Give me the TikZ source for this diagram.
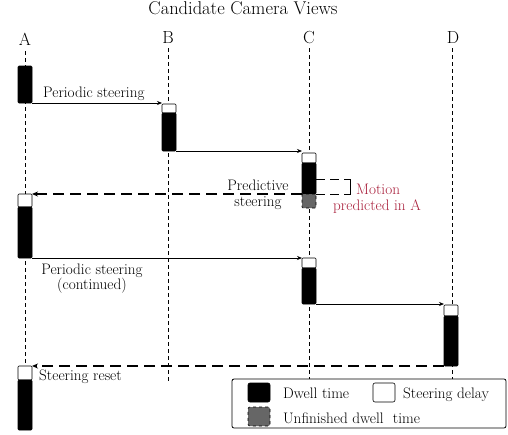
\documentclass[tikz,border=0pt]{standalone}
\usepackage{fontspec}
\usetikzlibrary{arrows.meta}
\definecolor{predred}{RGB}{168,30,58}
\begin{document}
\begin{tikzpicture}[x=1pt,y=-1pt,
  every node/.style={font=\fontsize{15.2}{18}\selectfont},
  big/.style={font=\fontsize{17.5}{20}\selectfont, inner sep=0, anchor=base},
  lane/.style={dash pattern=on 4pt off 3pt, line width=0.6pt},
  bar/.style={draw, line width=0.6pt, minimum width=14pt, inner sep=0, outer sep=0, rounded corners=1pt},
  dwell/.style={bar, fill=black},
  delay/.style={bar, fill=white},
  unfinished/.style={bar, fill=black!60, dashed},
  hop/.style={-{Stealth[length=5pt,width=4pt]}, line width=0.7pt},
  back/.style={-{Stealth[length=6pt,width=5pt]}, line width=1.1pt, dash pattern=on 11pt off 6pt},
  lbl/.style={inner sep=0, anchor=base west},
  ctr/.style={inner sep=0, anchor=base},
]
\useasboundingbox (0,0) rectangle (508,434);

% title and view headers
\node[big, font=\fontsize{18.5}{22}\selectfont] (title) at (243,14.5) {Candidate Camera Views};
\node[big] (hA) at (25,45) {A};
\node[big] (hB) at (168,43) {B};
\node[big] (hC) at (309,43) {C};
\node[big] (hD) at (453,43) {D};

% dashed lanes
\coordinate (topA) at (25,51);  \coordinate (botA) at (25,430);
\coordinate (topB) at (168,48); \coordinate (botB) at (168,383);
\coordinate (topC) at (309,48); \coordinate (botC) at (309,379);
\coordinate (topD) at (452,48); \coordinate (botD) at (452,379);
\draw[lane] (topA) -- (botA);
\draw[lane] (topB) -- (botB);
\draw[lane] (topC) -- (botC);
\draw[lane] (topD) -- (botD);

% dwell / delay bars
\node[dwell, minimum height=37pt] (A1) at (25,84.5) {};
\node[delay, minimum height=9pt]  (B1d) at (169,108.5) {};
\node[dwell, minimum height=38pt] (B1) at (169,132) {};
\node[delay, minimum height=10pt] (C1d) at (309,158) {};
\node[dwell, minimum height=31pt] (C1) at (309,178.5) {};
\node[unfinished, minimum height=14pt] (C1u) at (309,201) {};
\node[delay, minimum height=13pt] (A2d) at (25,200.5) {};
\node[dwell, minimum height=51pt] (A2) at (25,232.5) {};
\node[delay, minimum height=10pt] (C2d) at (309,263) {};
\node[dwell, minimum height=36pt] (C2) at (309,286) {};
\node[delay, minimum height=11pt] (D1d) at (451,310.5) {};
\node[dwell, minimum height=50pt] (D1) at (451,341) {};
\node[delay, minimum height=14pt] (A3d) at (25,373) {};
\node[dwell, minimum height=50pt] (A3) at (25,405) {};

% steering transitions
\draw[hop] (A1.south east) -- (A1.south east -| B1d.west);
\draw[hop] (B1.south east) -- (B1.south east -| C1d.west);
\draw[back] (C1.south west) -- (C1.south west -| A2d.east);
\draw[hop] (A2.south east) -- (A2.south east -| C2d.west);
\draw[hop] (C2.south east) -- (C2.south east -| D1d.west);
\draw[back] (D1.south west) -- (D1.south west -| A3d.east);

% bracket marking the predicted motion
\coordinate (brT) at (350,179);
\coordinate (brB) at (350,194);
\draw[dash pattern=on 9pt off 5pt, line width=0.9pt] (C1.east |- brT) -- ([xshift=-4pt]brT);
\draw[dash pattern=on 9pt off 5pt, line width=0.9pt] (C1.south east) -- ([xshift=-4pt]brB);
\draw[line width=0.8pt] ([xshift=-4pt]brT) -- (brT) -- (brB) -- ([xshift=-4pt]brB);

% labels
\node[lbl] (t1) at (43,97.5) {Periodic steering};
\node[ctr] (t2a) at (258,190.5) {Predictive};
\node[ctr] (t2b) at (258,206.5) {steering};
\node[lbl, text=predred] (m1) at (356,194) {Motion};
\node[lbl, text=predred] (m2) at (333,210) {predicted in A};
\node[ctr] (t3a) at (92,274) {Periodic steering};
\node[ctr] (t3b) at (92,289) {(continued)};
\node[lbl] (t4) at (39,380) {Steering reset};

% legend
\node[draw, rounded corners=2pt, line width=0.8pt, fill=white, inner sep=0,
      minimum width=274pt, minimum height=49pt] (legend) at (369,403.5) {};
\node[dwell, minimum width=22pt, minimum height=19pt, rounded corners=2pt] (kDwell) at (259,392.5) {};
\node[lbl] (kDwellT) at (283,398) {Dwell time};
\node[delay, minimum width=22pt, minimum height=19pt, rounded corners=2pt] (kDelay) at (384,392.5) {};
\node[lbl] (kDelayT) at (403,398) {Steering delay};
\node[unfinished, minimum width=22pt, minimum height=19pt, rounded corners=2pt] (kUnf) at (259,416.5) {};
\node[lbl] (kUnfT) at (283,423) {Unfinished dwell\ \ time};
\end{tikzpicture}
\end{document}
